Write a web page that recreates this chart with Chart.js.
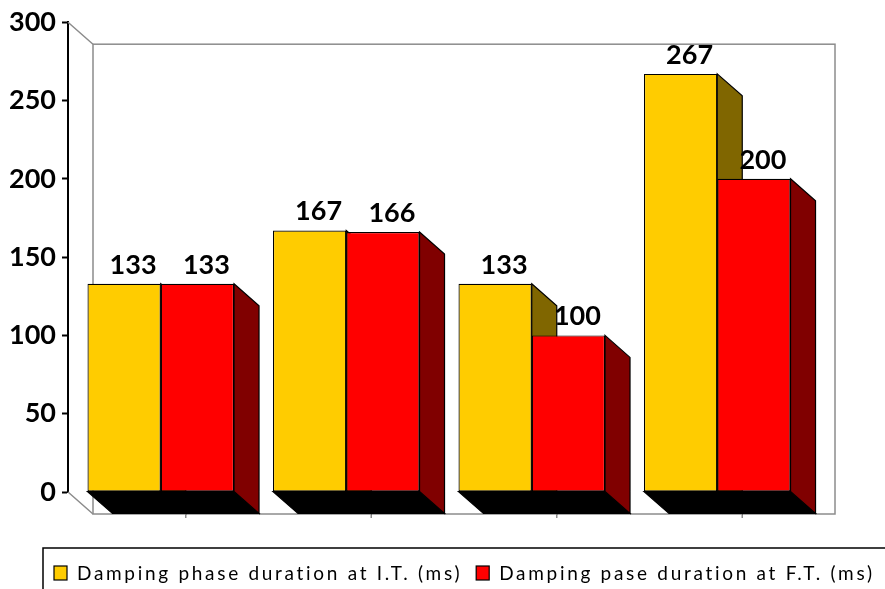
<!DOCTYPE html>
<html>
<head>
<meta charset="utf-8">
<script src="https://cdn.jsdelivr.net/npm/chart.js@4.4.1/dist/chart.umd.min.js"></script>
<style>
  html, body { margin: 0; padding: 0; background: #fff; }
  #wrap { width: 885px; height: 589px; position: relative; }
</style>
</head>
<body>
<div id="wrap"><canvas id="chart"></canvas></div>
<script>
const categories = ['1', '2', '3', '4'];
const itValues = [133, 167, 133, 267];
const ftValues = [133, 166, 100, 200];
const seriesNames = ['Damping phase duration at I.T. (ms)', 'Damping pase duration at F.T. (ms)'];
const yTicks = [0, 50, 100, 150, 200, 250, 300];

const frontColors = ['#FFCC00', '#FF0000'];
const sideColors = ['#806600', '#800000'];
const depth = { dx: 25, dy: 22 };

function poly(ctx, pts, fill) {
    ctx.beginPath();
    ctx.moveTo(pts[0][0], pts[0][1]);
    for (let i = 1; i < pts.length; i++) ctx.lineTo(pts[i][0], pts[i][1]);
    ctx.closePath();
    ctx.fillStyle = fill;
    ctx.fill();
    ctx.stroke();
}

// back wall, floor shadows and side faces of the bars
const box3d = {
    id: 'box3d',
    beforeDatasetsDraw(chart) {
        const { ctx, chartArea: a } = chart;
        const { dx, dy } = depth;
        ctx.save();
        ctx.strokeStyle = '#8c8c8c';
        ctx.lineWidth = 1.5;
        ctx.beginPath();
        ctx.moveTo(a.left, a.top); ctx.lineTo(a.left + dx, a.top + dy);
        ctx.moveTo(a.left, a.bottom); ctx.lineTo(a.left + dx, a.bottom + dy);
        ctx.stroke();
        ctx.strokeRect(a.left + dx, a.top + dy, a.right - a.left, a.bottom - a.top);
        ctx.beginPath();
        categories.forEach((c, i) => {
            const px = chart.scales.x.getPixelForValue(i) + dx;
            ctx.moveTo(px, a.bottom + dy);
            ctx.lineTo(px, a.bottom + dy + 4);
        });
        ctx.stroke();

        ctx.strokeStyle = '#000';
        ctx.lineWidth = 1.2;
        ctx.lineJoin = 'miter';
        const metas = [0, 1].map(d => chart.getDatasetMeta(d));
        categories.forEach((c, i) => {
            metas.forEach((meta, d) => {
                const bar = meta.data[i];
                const l = bar.x - bar.width / 2;
                const r = bar.x + bar.width / 2;
                poly(ctx, [[l, bar.base], [r, bar.base], [r + dx, bar.base + dy], [l + dx, bar.base + dy]], '#000');
                poly(ctx, [[r, bar.y], [r + dx, bar.y + dy], [r + dx, bar.base + dy], [r, bar.base]], sideColors[d]);
            });
        });
        ctx.restore();
    },
    afterDatasetsDraw(chart) {
        const { ctx } = chart;
        ctx.save();
        ctx.font = 'bold 27px Lato';
        ctx.fillStyle = '#000';
        ctx.textAlign = 'center';
        ctx.textBaseline = 'alphabetic';
        chart.data.datasets.forEach((ds, d) => {
            chart.getDatasetMeta(d).data.forEach((bar, i) => {
                ctx.fillText(String(ds.data[i]), bar.x + 9, bar.y - 10);
            });
        });
        ctx.restore();
    },
    afterDraw(chart) {
        const { ctx } = chart;
        ctx.save();
        ctx.strokeStyle = '#000';
        ctx.lineWidth = 1.5;
        ctx.strokeRect(43, 548, 900, 100);
        ctx.font = '19px Lato';
        ctx.letterSpacing = '2.7px';
        ctx.textBaseline = 'alphabetic';
        let x = 54;
        seriesNames.forEach((name, d) => {
            ctx.fillStyle = frontColors[d];
            ctx.lineWidth = 1.2;
            ctx.fillRect(x, 566, 13, 14);
            ctx.strokeRect(x, 566, 13, 14);
            ctx.fillStyle = '#000';
            ctx.fillText(name, x + 23, 580);
            x += 23 + ctx.measureText(name).width + 14;
        });
        ctx.restore();
    }
};

new Chart(document.getElementById('chart'), {
    type: 'bar',
    data: {
        labels: categories,
        datasets: [
            { label: seriesNames[0], data: itValues, backgroundColor: frontColors[0] },
            { label: seriesNames[1], data: ftValues, backgroundColor: frontColors[1] }
        ].map(ds => Object.assign(ds, {
            borderColor: '#000',
            borderWidth: 1.2,
            borderSkipped: false,
            categoryPercentage: 0.79,
            barPercentage: 1
        }))
    },
    options: {
        responsive: true,
        maintainAspectRatio: false,
        animation: false,
        layout: { padding: { top: 20, right: 75, bottom: 97, left: 0 } },
        plugins: { legend: { display: false }, tooltip: { enabled: false } },
        scales: {
            x: { display: false },
            y: {
                min: 0,
                max: 300,
                afterFit: s => { s.width = 68; },
                afterBuildTicks: s => { s.ticks = yTicks.map(v => ({ value: v })); },
                border: { color: '#000', width: 2 },
                grid: { drawOnChartArea: false, drawTicks: true, tickLength: 6, tickColor: '#000', tickWidth: 2 },
                ticks: { color: '#000', padding: 6, font: { family: 'Lato', size: 27, weight: 'bold' } }
            }
        }
    },
    plugins: [box3d]
});
</script>
</body>
</html>
